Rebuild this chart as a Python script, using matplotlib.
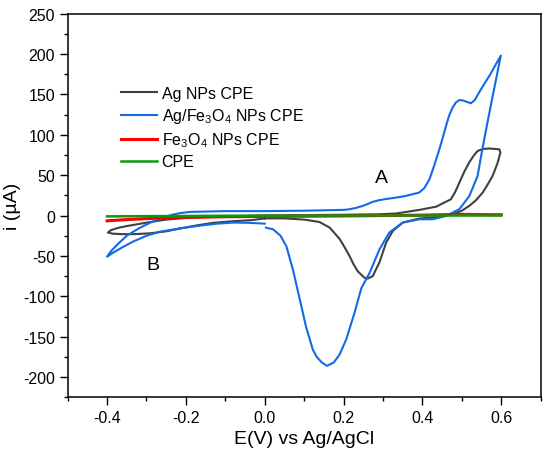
import matplotlib
matplotlib.use("Agg")
import matplotlib.pyplot as plt
from matplotlib.ticker import MultipleLocator

plt.rcParams['font.family'] = ['Liberation Sans', 'DejaVu Sans']
plt.rcParams['mathtext.fontset'] = 'custom'
plt.rcParams['mathtext.rm'] = 'Liberation Sans'

# Ag NPs CPE (potential V, current uA), one full cycle
ag_E = [0.0, -0.03, -0.08, -0.131, -0.17, -0.215, -0.25, -0.291, -0.33, -0.36, -0.385, -0.398,
        -0.39, -0.37, -0.35, -0.32, -0.291, -0.25, -0.2, -0.1, 0.0, 0.1, 0.2, 0.29, 0.333, 0.392,
        0.435, 0.455, 0.472, 0.483, 0.494, 0.506, 0.519, 0.53, 0.54, 0.555, 0.57, 0.595,
        0.598, 0.59, 0.578, 0.565, 0.553, 0.536, 0.519, 0.5, 0.477, 0.426, 0.392, 0.35, 0.325,
        0.308, 0.291, 0.274, 0.261, 0.253, 0.236, 0.225, 0.215, 0.2, 0.19, 0.165, 0.139, 0.1, 0.05, 0.0]
ag_i = [-3.5, -5.5, -7, -9, -12, -16, -19.5, -22, -23, -23, -22.5, -21,
        -18, -15, -13, -10.5, -8, -5, -3, -1, 0, 0.5, 1, 1.6, 2.5, 7,
        11, 16, 20, 29, 41, 54, 66, 74, 80, 82.5, 83, 82,
        78, 64, 49, 38, 28.5, 19, 12, 6, 1.6, -2.5, -3.7, -8.7, -19,
        -33.5, -58, -75, -78, -77, -69, -60, -50, -37, -29, -15, -8, -5, -3.5, -3.5]

# Ag/Fe3O4 NPs CPE
agfe_E = [0.0, -0.04, -0.08, -0.12, -0.165, -0.21, -0.266, -0.3, -0.333, -0.36, -0.385, -0.4,
          -0.39, -0.37, -0.35, -0.32, -0.29, -0.26, -0.235, -0.215, -0.19, -0.1, 0.0, 0.1, 0.2,
          0.215, 0.232, 0.249, 0.262, 0.274, 0.29, 0.308, 0.33, 0.355, 0.38, 0.392, 0.405, 0.418,
          0.43, 0.443, 0.452, 0.46, 0.468, 0.477, 0.485, 0.494, 0.503, 0.511, 0.523, 0.533,
          0.544, 0.557, 0.57, 0.585, 0.599,
          0.575, 0.552, 0.54, 0.519, 0.494, 0.46, 0.426, 0.392, 0.35, 0.316, 0.291, 0.266,
          0.245, 0.228, 0.207, 0.19, 0.175, 0.158, 0.145, 0.132, 0.122, 0.105, 0.089, 0.072,
          0.055, 0.04, 0.021, 0.003]
agfe_i = [-10, -9, -8.7, -10, -12.5, -15.5, -20, -25, -32, -39, -46, -51,
          -44, -34, -25, -16, -8.7, -3, 1, 3, 4.5, 5.5, 5.5, 6, 7,
          7.8, 9.5, 12, 14.5, 17, 19, 20.5, 22, 24, 27, 28.5, 34, 45,
          62, 82, 97, 111, 124, 134, 140, 143, 142.5, 141, 139, 143,
          152.6, 163, 173, 186, 198,
          140, 82, 49, 24, 8, -0.5, -4.6, -4.6, -8.7, -21, -42, -71,
          -90, -120, -153, -172, -182, -186, -182, -175, -166, -138, -104, -68,
          -38, -25, -17, -15]

# Fe3O4 NPs CPE
fe_E = [-0.4, -0.35, -0.3, -0.233, -0.1, 0.0, 0.1, 0.2, 0.3, 0.4, 0.45, 0.5, 0.55, 0.6]
fe_i = [-6.5, -5, -3.8, -2.5, -1.5, -1, -0.8, -0.5, 0, 0.5, 1, 1.5, 1.2, 1]

# bare CPE
cpe_E = [-0.4, -0.2, 0.0, 0.2, 0.4, 0.6]
cpe_i = [-1, -0.5, 0, 0, 0, 0]

fig = plt.figure(figsize=(5.5, 4.56), dpi=100)
ax = fig.add_axes([0.123, 0.1265, 0.86, 0.8415])

ax.plot(ag_E, ag_i, color='#404040', lw=1.5, label='Ag NPs CPE')
ax.plot(agfe_E, agfe_i, color='#1469e6', lw=1.5, label=r'Ag/Fe$\mathregular{_3}$O$\mathregular{_4}$ NPs CPE')
ax.plot(fe_E, fe_i, color='#ff0000', lw=2.2, label=r'Fe$\mathregular{_3}$O$\mathregular{_4}$ NPs CPE')
ax.plot(cpe_E, cpe_i, color='#0a9a0a', lw=1.8, label='CPE')

ax.text(0.295, 47, 'A', fontsize=14, ha='center', va='center')
ax.text(-0.283, -60, 'B', fontsize=14, ha='center', va='center')

ax.set_xlim(-0.5, 0.7)
ax.set_ylim(-225, 250)
ax.xaxis.set_minor_locator(MultipleLocator(0.1))
ax.yaxis.set_minor_locator(MultipleLocator(25))
ax.set_xticks([-0.4, -0.2, 0.0, 0.2, 0.4, 0.6])
ax.set_xticklabels(['-0.4', '-0.2', '0.0', '0.2', '0.4', '0.6'])
ax.set_yticks([-200, -150, -100, -50, 0, 50, 100, 150, 200, 250])
ax.set_yticklabels(['-200', '-150', '-100', '-50', '0', '50', '100', '150', '200', '250'])
ax.tick_params(which='both', direction='out', labelsize=11.5, width=1)
ax.tick_params(which='major', length=5.5)
ax.tick_params(which='minor', length=3)
for s in ax.spines.values():
    s.set_linewidth(1.1)

ax.set_xlabel('E(V) vs Ag/AgCl', fontsize=14)
ax.set_ylabel('i (µA)', fontsize=14)
ax.yaxis.set_label_coords(-0.099, 0.5)

ax.legend(loc='upper left', bbox_to_anchor=(0.0985, 0.828), borderaxespad=0, frameon=False,
          fontsize=11.5, handlelength=2.3, handletextpad=0.27, labelspacing=0.33)

fig.savefig('out.png', dpi=100)
